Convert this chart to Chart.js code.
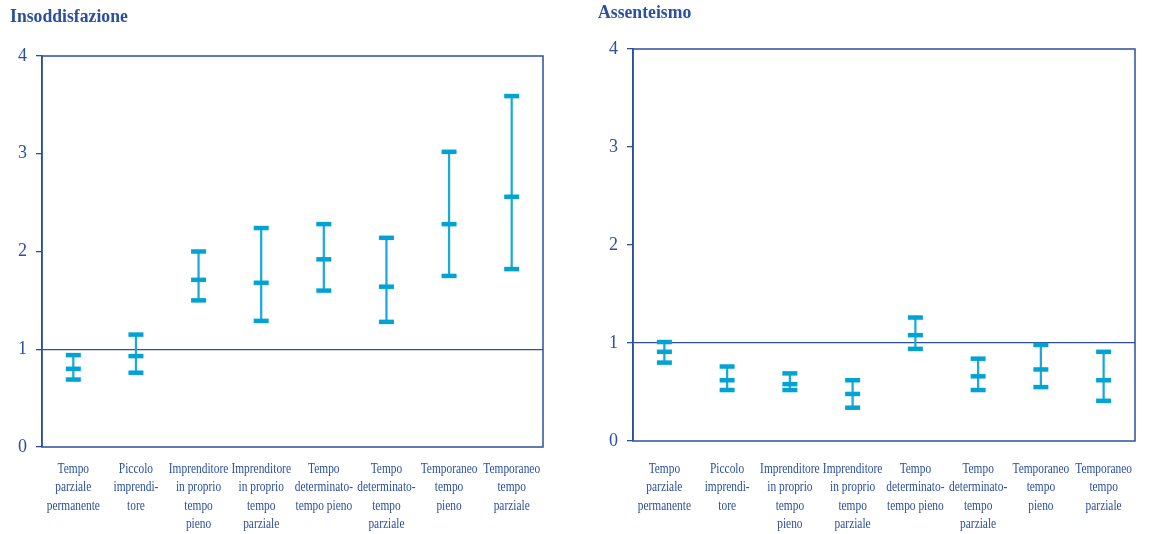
<!DOCTYPE html>
<html>
<head>
<meta charset="utf-8">
<script src="https://cdn.jsdelivr.net/npm/chart.js@4"></script>
<style>
  body { margin: 0; background: #fff; }
  .riga { display: flex; width: 1152px; height: 534px; }
  canvas { display: block; }
</style>
</head>
<body>
<div class="riga">
  <canvas id="insoddChart" width="576" height="534"></canvas>
  <canvas id="assentChart" width="576" height="534"></canvas>
</div>
<script>
// Categorie (etichette su più righe)
const categorie = [
    ['Tempo', 'parziale', 'permanente'],
    ['Piccolo', 'imprendi-', 'tore'],
    ['Imprenditore', 'in proprio', 'tempo', 'pieno'],
    ['Imprenditore', 'in proprio', 'tempo', 'parziale'],
    ['Tempo', 'determinato-', 'tempo pieno'],
    ['Tempo', 'determinato-', 'tempo', 'parziale'],
    ['Temporaneo', 'tempo', 'pieno'],
    ['Temporaneo', 'tempo', 'parziale']
];
const tickY = [0, 1, 2, 3, 4];

// Insoddisfazione: minimo, stima centrale, massimo
const insoddMin = [0.69, 0.76, 1.50, 1.29, 1.60, 1.28, 1.75, 1.82];
const insoddMed = [0.80, 0.93, 1.71, 1.68, 1.92, 1.64, 2.28, 2.56];
const insoddMax = [0.94, 1.15, 2.00, 2.24, 2.28, 2.14, 3.02, 3.59];

// Assenteismo: minimo, stima centrale, massimo
const assentMin = [0.80, 0.52, 0.52, 0.34, 0.94, 0.52, 0.55, 0.41];
const assentMed = [0.91, 0.62, 0.58, 0.48, 1.08, 0.66, 0.73, 0.62];
const assentMax = [1.01, 0.76, 0.69, 0.62, 1.26, 0.84, 0.98, 0.91];

const BLU = '#2c4f9e';
const CIANO = '#00a3d4';
const FONT = '"Liberation Serif", "DejaVu Serif", serif';

// Testo "stretto" orizzontalmente, come nell'originale
function testoStretto(ctx, testo, x, y, scala) {
    ctx.save();
    ctx.translate(x, y);
    ctx.scale(scala, 1);
    ctx.fillText(testo, 0, 0);
    ctx.restore();
}

// Plugin: cornice, titolo ed etichette dell'asse x
const decorazioni = {
    id: 'decorazioni',
    afterDraw(chart, args, opts) {
        const ctx = chart.ctx;
        const area = chart.chartArea;
        const x = chart.scales.x;

        ctx.save();
        // cornice del grafico
        ctx.strokeStyle = BLU;
        ctx.lineWidth = 1.5;
        ctx.strokeRect(area.left, area.top, area.right - area.left, area.bottom - area.top);

        // titolo
        ctx.fillStyle = BLU;
        ctx.font = 'bold 19px ' + FONT;
        ctx.textAlign = 'left';
        ctx.textBaseline = 'alphabetic';
        testoStretto(ctx, opts.titolo, opts.titoloX, opts.titoloY, 0.93);

        // etichette categorie
        ctx.font = '15px ' + FONT;
        ctx.textAlign = 'center';
        categorie.forEach((righe, i) => {
            const px = x.getPixelForValue(i);
            righe.forEach((r, j) => {
                testoStretto(ctx, r, px, opts.etichetteY + j * 18.3, 0.76);
            });
        });
        ctx.restore();
    }
};

function creaGrafico(id, minimi, medi, massimi, cfg) {
    const cap = (dati) => ({
        type: 'line',
        data: dati,
        showLine: false,
        pointStyle: 'line',
        pointRadius: 7.5,
        pointBorderWidth: 4.5,
        pointBorderColor: CIANO,
        pointBackgroundColor: CIANO,
        order: 0
    });

    return new Chart(document.getElementById(id), {
        type: 'bar',
        data: {
            labels: categorie.map(c => c.join(' ')),
            datasets: [
                {
                    data: minimi.map((v, i) => [v, massimi[i]]),
                    backgroundColor: '#1ba9da',
                    barThickness: 1.6,
                    borderSkipped: false,
                    order: 1
                },
                cap(minimi),
                cap(medi),
                cap(massimi)
            ]
        },
        options: {
            responsive: false,
            animation: false,
            layout: { padding: cfg.padding },
            plugins: {
                legend: { display: false },
                tooltip: { enabled: false },
                decorazioni: {
                    titolo: cfg.titolo,
                    titoloX: cfg.titoloX,
                    titoloY: cfg.titoloY,
                    etichetteY: 473
                }
            },
            scales: {
                x: {
                    offset: true,
                    grid: { display: false },
                    border: { display: false },
                    ticks: { display: false },
                    afterFit(scale) { scale.height = 0; }
                },
                y: {
                    min: 0,
                    max: 4,
                    afterBuildTicks(scale) { scale.ticks = tickY.map(v => ({ value: v })); },
                    afterFit(scale) { scale.width = cfg.larghezzaY; },
                    border: { color: BLU, width: 1.5 },
                    grid: {
                        drawOnChartArea: true,
                        color: c => (c.tick && c.tick.value === 1) ? BLU : 'rgba(0,0,0,0)',
                        lineWidth: 1.3,
                        tickColor: BLU,
                        tickLength: 6
                    },
                    ticks: {
                        color: BLU,
                        padding: 9,
                        font: { family: FONT, size: 18 }
                    }
                }
            }
        },
        plugins: [decorazioni]
    });
}

creaGrafico('insoddChart', insoddMin, insoddMed, insoddMax, {
    titolo: 'Insoddisfazione',
    titoloX: 10,
    titoloY: 22,
    larghezzaY: 42,
    padding: { top: 56, right: 33, bottom: 87, left: 0 }
});

creaGrafico('assentChart', assentMin, assentMed, assentMax, {
    titolo: 'Assenteismo',
    titoloX: 22,
    titoloY: 18,
    larghezzaY: 57,
    padding: { top: 49, right: 17, bottom: 93, left: 0 }
});
</script>
</body>
</html>
